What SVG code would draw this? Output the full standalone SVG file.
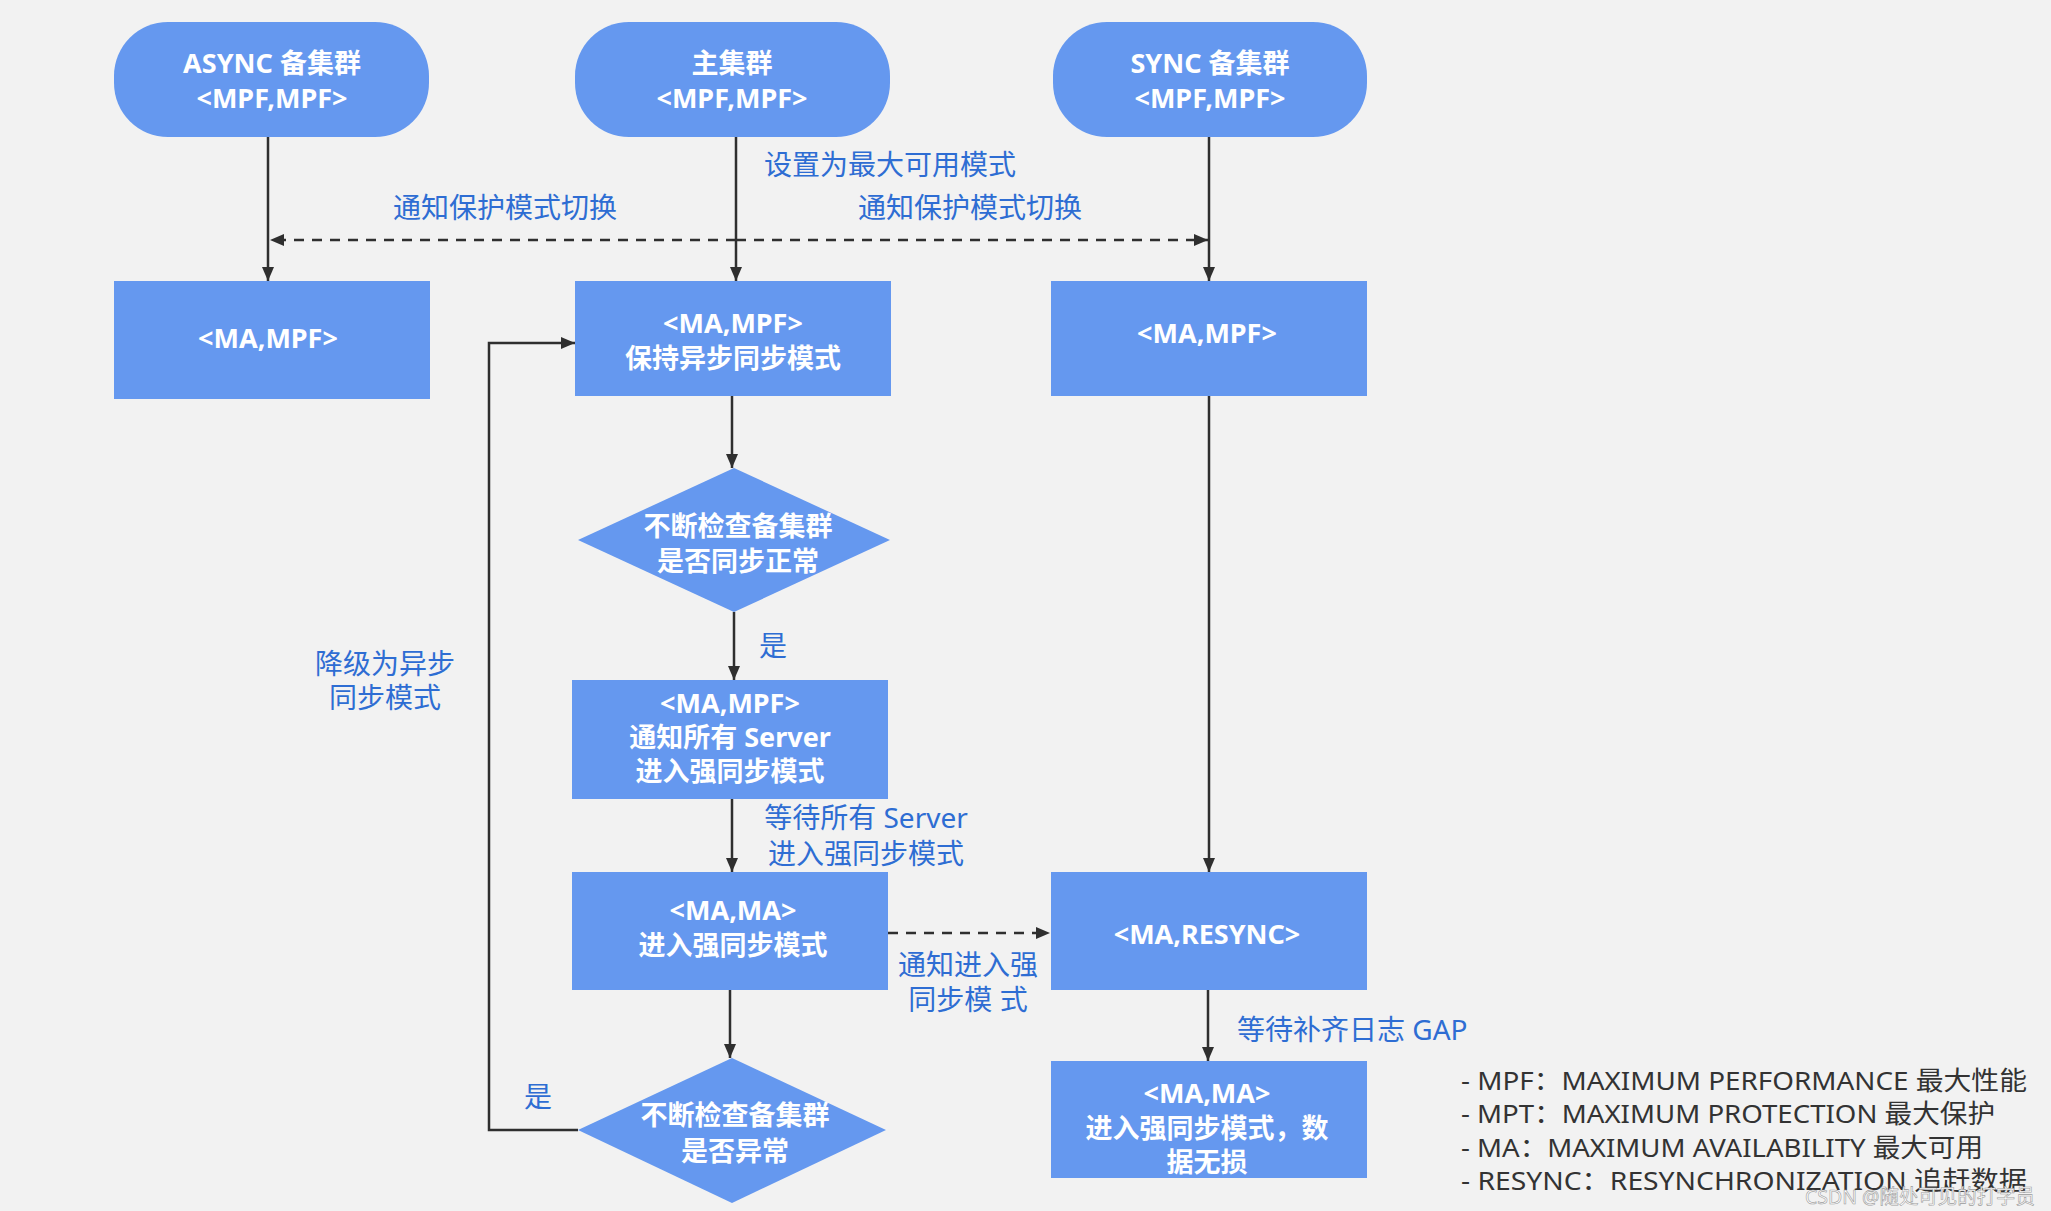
<svg xmlns="http://www.w3.org/2000/svg" width="2051" height="1211" viewBox="0 0 2051 1211">
<defs>
<marker id="ah" viewBox="0 0 14 12" refX="14" refY="6" markerWidth="14" markerHeight="12" markerUnits="userSpaceOnUse" orient="auto">
<path d="M0,0 L14,6 L0,12 Z" fill="#2f2f2f"/>
</marker>
<style>
.n{fill:#6598EF;}
.t{fill:#ffffff;font-family:"Noto Sans","Noto Sans CJK SC",sans-serif;font-weight:700;font-size:27px;text-anchor:middle;dominant-baseline:central;}
.l{fill:#2E6DD3;font-family:"Noto Sans","Noto Sans CJK SC",sans-serif;font-size:28px;dominant-baseline:central;}
.c{text-anchor:middle;}
.e{fill:none;stroke:#2f2f2f;stroke-width:2.5;marker-end:url(#ah);}
.d{stroke-dasharray:10 8;}
.g{fill:#333333;font-family:"Noto Sans","Noto Sans CJK SC",sans-serif;font-size:26px;dominant-baseline:central;}
</style>
</defs>
<rect x="0" y="0" width="2051" height="1211" fill="#F2F2F2"/>

<g id="connectors">
<path class="e" d="M268,137 L268,281"/>
<path class="e" d="M736,137 L736,281"/>
<path class="e" d="M1209,137 L1209,281"/>
<path class="e d" d="M736,240 L270,240"/>
<path class="e d" d="M736,240 L1208,240"/>
<path class="e" d="M732,396 L732,468"/>
<path class="e" d="M734,612 L734,680"/>
<path class="e" d="M732,799 L732,872"/>
<path class="e" d="M730,990 L730,1058"/>
<path class="e" d="M578,1130 L489,1130 L489,343 L575,343"/>
<path class="e d" d="M888,933 L1050,933"/>
<path class="e" d="M1209,396 L1209,872"/>
<path class="e" d="M1208,990 L1208,1061"/>
</g>

<g id="labels">
<text class="l" x="764" y="164">设置为最大可用模式</text>
<text class="l c" x="505" y="207">通知保护模式切换</text>
<text class="l c" x="970" y="207">通知保护模式切换</text>
<text class="l c" x="773" y="645">是</text>
<text class="l c" x="385" y="663">降级为异步</text>
<text class="l c" x="385" y="697">同步模式</text>
<text class="l c" x="866" y="817">等待所有 Server</text>
<text class="l c" x="866" y="853">进入强同步模式</text>
<text class="l c" x="968" y="964">通知进入强</text>
<text class="l c" x="968" y="999">同步模 式</text>
<text class="l" x="1237" y="1029">等待补齐日志 GAP</text>
<text class="l c" x="538" y="1096">是</text>
</g>

<g id="node-async">
<rect class="n" x="114" y="22" width="315" height="115" rx="54"/>
<text class="t" x="272" y="62">ASYNC 备集群</text>
<text class="t" x="272" y="97">&lt;MPF,MPF&gt;</text>
</g>
<g id="node-primary">
<rect class="n" x="575" y="22" width="315" height="115" rx="54"/>
<text class="t" x="732" y="62">主集群</text>
<text class="t" x="732" y="97">&lt;MPF,MPF&gt;</text>
</g>
<g id="node-sync">
<rect class="n" x="1053" y="22" width="314" height="115" rx="54"/>
<text class="t" x="1210" y="62">SYNC 备集群</text>
<text class="t" x="1210" y="97">&lt;MPF,MPF&gt;</text>
</g>

<g id="node-async-ma">
<rect class="n" x="114" y="281" width="316" height="118"/>
<text class="t" x="268" y="337">&lt;MA,MPF&gt;</text>
</g>
<g id="node-keep-async">
<rect class="n" x="575" y="281" width="316" height="115"/>
<text class="t" x="733" y="322">&lt;MA,MPF&gt;</text>
<text class="t" x="733" y="357">保持异步同步模式</text>
</g>
<g id="node-sync-ma">
<rect class="n" x="1051" y="281" width="316" height="115"/>
<text class="t" x="1207" y="332">&lt;MA,MPF&gt;</text>
</g>

<g id="node-check1">
<polygon class="n" points="734,468 890,540 734,612 578,540"/>
<text class="t" x="738" y="525">不断检查备集群</text>
<text class="t" x="738" y="560">是否同步正常</text>
</g>

<g id="node-notify">
<rect class="n" x="572" y="680" width="316" height="119"/>
<text class="t" x="730" y="702">&lt;MA,MPF&gt;</text>
<text class="t" x="730" y="736">通知所有 Server</text>
<text class="t" x="730" y="770">进入强同步模式</text>
</g>

<g id="node-ma-ma">
<rect class="n" x="572" y="872" width="316" height="118"/>
<text class="t" x="733" y="909">&lt;MA,MA&gt;</text>
<text class="t" x="733" y="944">进入强同步模式</text>
</g>

<g id="node-check2">
<polygon class="n" points="732,1058 886,1130 732,1203 578,1130"/>
<text class="t" x="735" y="1114">不断检查备集群</text>
<text class="t" x="735" y="1150">是否异常</text>
</g>

<g id="node-resync">
<rect class="n" x="1051" y="872" width="316" height="118"/>
<text class="t" x="1207" y="933">&lt;MA,RESYNC&gt;</text>
</g>

<g id="node-final">
<rect class="n" x="1051" y="1061" width="316" height="117"/>
<text class="t" x="1207" y="1092">&lt;MA,MA&gt;</text>
<text class="t" x="1207" y="1127">进入强同步模式，数</text>
<text class="t" x="1207" y="1161">据无损</text>
</g>

<g id="legend">
<text class="g" x="1461" y="1080" textLength="566" lengthAdjust="spacingAndGlyphs">- MPF：MAXIMUM PERFORMANCE 最大性能</text>
<text class="g" x="1461" y="1113" textLength="534" lengthAdjust="spacingAndGlyphs">- MPT：MAXIMUM PROTECTION 最大保护</text>
<text class="g" x="1461" y="1147" textLength="522" lengthAdjust="spacingAndGlyphs">- MA：MAXIMUM AVAILABILITY 最大可用</text>
<text class="g" x="1461" y="1180" textLength="566" lengthAdjust="spacingAndGlyphs">- RESYNC：RESYNCHRONIZATION 追赶数据</text>
</g>

<text x="1805" y="1196" font-family="'Noto Sans','Noto Sans CJK SC',sans-serif" font-size="20" fill="#ffffff" stroke="#9a9a9a" stroke-width="0.6" dominant-baseline="central" textLength="230" lengthAdjust="spacingAndGlyphs">CSDN @随处可见的打字员</text>
</svg>
